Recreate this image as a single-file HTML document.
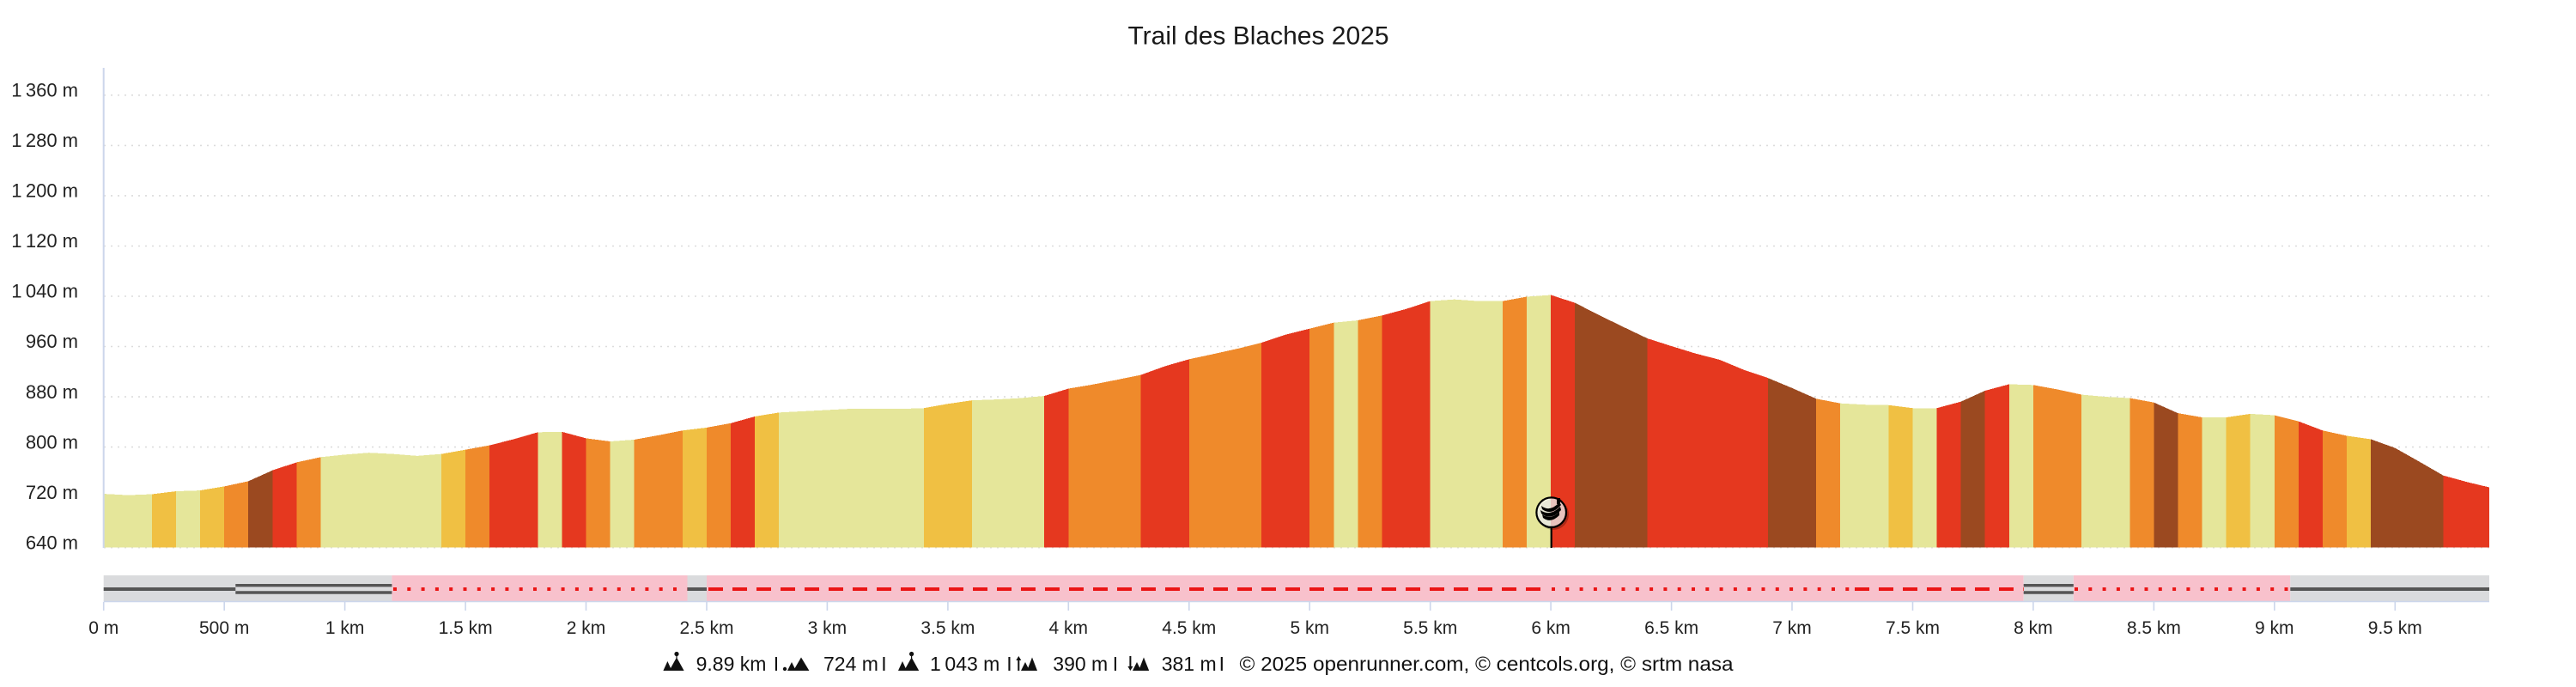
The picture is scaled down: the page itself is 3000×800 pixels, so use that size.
<!DOCTYPE html>
<html><head><meta charset="utf-8"><style>
html,body{margin:0;padding:0;background:#fff;}
svg{display:block;font-family:"Liberation Sans",Arial,sans-serif;}
</style></head><body>
<svg width="3000" height="800" viewBox="0 0 3000 800" xmlns="http://www.w3.org/2000/svg">
<rect width="3000" height="800" fill="#fff"/>
<text x="1465.5" y="51.7" text-anchor="middle" font-size="30" fill="#1a1a1a">Trail des Blaches 2025</text>
<g stroke="#dcdcdc" stroke-width="1.6" stroke-dasharray="2 6">
<line x1="121" y1="110.8" x2="2899" y2="110.8"/>
<line x1="121" y1="169.4" x2="2899" y2="169.4"/>
<line x1="121" y1="227.9" x2="2899" y2="227.9"/>
<line x1="121" y1="286.5" x2="2899" y2="286.5"/>
<line x1="121" y1="345.0" x2="2899" y2="345.0"/>
<line x1="121" y1="403.5" x2="2899" y2="403.5"/>
<line x1="121" y1="462.1" x2="2899" y2="462.1"/>
<line x1="121" y1="520.6" x2="2899" y2="520.6"/>
<line x1="121" y1="579.2" x2="2899" y2="579.2"/>
<line x1="121" y1="637.7" x2="2899" y2="637.7"/>
</g>
<g font-size="22" fill="#222" text-anchor="end">
<text x="91" y="112.5">1&#8201;360 m</text>
<text x="91" y="171.1">1&#8201;280 m</text>
<text x="91" y="229.6">1&#8201;200 m</text>
<text x="91" y="288.2">1&#8201;120 m</text>
<text x="91" y="346.7">1&#8201;040 m</text>
<text x="91" y="405.2">960 m</text>
<text x="91" y="463.8">880 m</text>
<text x="91" y="522.3">800 m</text>
<text x="91" y="580.9">720 m</text>
<text x="91" y="639.5">640 m</text>
</g>
<g transform="matrix(28.09 0 0 -0.73175 120.7 1106.02)" shape-rendering="crispEdges">
<g fill="#e5e69a">
<polygon points="0,640 0,725.6 1,723.5 2,725 2,640"/>
<polygon points="3,640 3,729.7 4,731 4,640"/>
<polygon points="9,640 9,784 10,788 11,791 12,789 13,786 14,789 14,640"/>
<polygon points="18,640 18,823.6 19,824.3 19,640"/>
<polygon points="21,640 21,809 22,811.8 22,640"/>
<polygon points="28,640 28,855 29,857 30,859 31,861 32,861 33,860.7 34,862 34,640"/>
<polygon points="36,640 36,874.4 37,875.8 38,877.9 39,881.4 39,640"/>
<polygon points="51,640 51,998 52,1001.7 52,640"/>
<polygon points="55,640 55,1032.3 56,1035 57,1032.3 58,1032.3 58,640"/>
<polygon points="59,640 59,1039.3 60,1042 60,640"/>
<polygon points="72,640 72,869.6 73,867.5 74,866.8 74,640"/>
<polygon points="75,640 75,862 76,862 76,640"/>
<polygon points="79,640 79,900 80,898.8 80,640"/>
<polygon points="82,640 82,883.5 83,880 84,878 84,640"/>
<polygon points="87,640 87,847.3 88,847.3 88,640"/>
<polygon points="89,640 89,852.9 90,850.7 90,640"/>
</g>
<g fill="#f0c043">
<polygon points="2,640 2,725 3,729.7 3,640"/>
<polygon points="4,640 4,731 5,737.4 5,640"/>
<polygon points="14,640 14,789 15,795.8 15,640"/>
<polygon points="24,640 24,826.4 25,831 25,640"/>
<polygon points="27,640 27,848.7 28,855 28,640"/>
<polygon points="34,640 34,862 35,868.8 36,874.4 36,640"/>
<polygon points="74,640 74,866.8 75,862 75,640"/>
<polygon points="88,640 88,847.3 89,852.9 89,640"/>
<polygon points="93,640 93,818 94,812.5 94,640"/>
</g>
<g fill="#ef8a2b">
<polygon points="5,640 5,737.4 6,745.7 6,640"/>
<polygon points="8,640 8,775.7 9,784 9,640"/>
<polygon points="15,640 15,795.8 16,802.8 16,640"/>
<polygon points="20,640 20,814 21,809 21,640"/>
<polygon points="22,640 22,811.8 23,818.8 24,826.4 24,640"/>
<polygon points="25,640 25,831 26,838 26,640"/>
<polygon points="40,640 40,893 41,899.5 42,907 43,914.8 43,640"/>
<polygon points="45,640 45,939.8 46,948 47,956.5 48,966 48,640"/>
<polygon points="50,640 50,988.5 51,998 51,640"/>
<polygon points="52,640 52,1001.7 53,1009.4 53,640"/>
<polygon points="58,640 58,1032.3 59,1039.3 59,640"/>
<polygon points="71,640 71,877 72,869.6 72,640"/>
<polygon points="80,640 80,898.8 81,891.8 82,883.5 82,640"/>
<polygon points="84,640 84,878 85,871 85,640"/>
<polygon points="86,640 86,854 87,847.3 87,640"/>
<polygon points="90,640 90,850.7 91,841 91,640"/>
<polygon points="92,640 92,826.4 93,818 93,640"/>
</g>
<g fill="#e5381f">
<polygon points="7,640 7,763 8,775.7 8,640"/>
<polygon points="16,640 16,802.8 17,812.5 18,823.6 18,640"/>
<polygon points="19,640 19,824.3 20,814 20,640"/>
<polygon points="26,640 26,838 27,848.7 27,640"/>
<polygon points="39,640 39,881.4 40,893 40,640"/>
<polygon points="43,640 43,914.8 44,928.7 45,939.8 45,640"/>
<polygon points="48,640 48,966 49,978.8 50,988.5 50,640"/>
<polygon points="53,640 53,1009.4 54,1019.8 55,1032.3 55,640"/>
<polygon points="60,640 60,1042 61,1029.6 61,640"/>
<polygon points="64,640 64,973 65,960.7 66,948.9 67,939 68,923 69,910 69,640"/>
<polygon points="76,640 76,862 77,872.3 77,640"/>
<polygon points="78,640 78,889.7 79,900 79,640"/>
<polygon points="91,640 91,841 92,826.4 92,640"/>
<polygon points="97,640 97,754.8 98,744.3 98.9,736 98.9,640"/>
</g>
<g fill="#9b4920">
<polygon points="6,640 6,745.7 7,763 7,640"/>
<polygon points="61,640 61,1029.6 62,1010 63,991.3 64,973 64,640"/>
<polygon points="69,640 69,910 70,894 71,877 71,640"/>
<polygon points="77,640 77,872.3 78,889.7 78,640"/>
<polygon points="85,640 85,871 86,854 86,640"/>
<polygon points="94,640 94,812.5 95,798.6 96,777 97,754.8 97,640"/>
</g>
</g>
<line x1="120.7" y1="79" x2="120.7" y2="638" stroke="#ccd6eb" stroke-width="2"/>
<!-- marker -->
<line x1="1806.7" y1="612" x2="1806.7" y2="638" stroke="#000" stroke-width="2.2"/>
<circle cx="1809" cy="599" r="18" fill="#000" opacity="0.25"/>
<circle cx="1806.7" cy="596.7" r="17.3" fill="#fff" fill-opacity="0.72" stroke="#000" stroke-width="2.2"/>
<g fill="#000">
<path d="M1795 589 Q1805 597 1816 585 L1818 588 Q1807 601 1796 593 Z"/>
<path d="M1794 594 Q1805 602 1817 590 L1818 594 Q1806 607 1795 598 Z"/>
<path d="M1796 599 Q1806 606 1816 596 L1816 600 Q1806 610 1797 603 Z"/>
<rect x="1813" y="580" width="4" height="7"/>
</g>
<!-- strip -->
<rect x="120.7" y="670" width="335.7" height="30" fill="#dadbdd"/>
<rect x="456.4" y="670" width="344.1" height="30" fill="#f8c1cc"/>
<rect x="800.5" y="670" width="22.5" height="30" fill="#dadbdd"/>
<rect x="823" y="670" width="1533.7" height="30" fill="#f8c1cc"/>
<rect x="2356.7" y="670" width="58.1" height="30" fill="#dadbdd"/>
<rect x="2414.8" y="670" width="252.5" height="30" fill="#f8c1cc"/>
<rect x="2667.3" y="670" width="231.7" height="30" fill="#dadbdd"/>
<g stroke="#555">
<line x1="120.7" y1="686" x2="274.3" y2="686" stroke-width="4"/>
<line x1="274.3" y1="681.7" x2="456.4" y2="681.7" stroke-width="3.4"/>
<line x1="274.3" y1="690" x2="456.4" y2="690" stroke-width="3.4"/>
<line x1="800.5" y1="686" x2="823" y2="686" stroke-width="4"/>
<line x1="2356.7" y1="681.7" x2="2414.8" y2="681.7" stroke-width="3.4"/>
<line x1="2356.7" y1="690" x2="2414.8" y2="690" stroke-width="3.4"/>
<line x1="2667.3" y1="686" x2="2899" y2="686" stroke-width="4"/>
</g>
<g stroke="#ea1515" stroke-width="4">
<line x1="458" y1="686" x2="800.5" y2="686" stroke-dasharray="4 12.3"/>
<line x1="825" y1="686" x2="1805" y2="686" stroke-dasharray="17 11"/>
<line x1="1807" y1="686" x2="2157" y2="686" stroke-dasharray="4 12.3"/>
<line x1="2160" y1="686" x2="2356.7" y2="686" stroke-dasharray="17 11"/>
<line x1="2416" y1="686" x2="2667.3" y2="686" stroke-dasharray="4 12.3"/>
</g>
<line x1="120.7" y1="700.5" x2="2899" y2="700.5" stroke="#ccd6eb" stroke-width="1.6"/>
<g stroke="#ccd6eb" stroke-width="1.6">
<line x1="120.7" y1="701" x2="120.7" y2="711"/><line x1="261.2" y1="701" x2="261.2" y2="711"/>
<line x1="401.6" y1="701" x2="401.6" y2="711"/><line x1="542.1" y1="701" x2="542.1" y2="711"/>
<line x1="682.5" y1="701" x2="682.5" y2="711"/><line x1="823.0" y1="701" x2="823.0" y2="711"/>
<line x1="963.4" y1="701" x2="963.4" y2="711"/><line x1="1103.9" y1="701" x2="1103.9" y2="711"/>
<line x1="1244.3" y1="701" x2="1244.3" y2="711"/><line x1="1384.8" y1="701" x2="1384.8" y2="711"/>
<line x1="1525.2" y1="701" x2="1525.2" y2="711"/><line x1="1665.7" y1="701" x2="1665.7" y2="711"/>
<line x1="1806.1" y1="701" x2="1806.1" y2="711"/><line x1="1946.6" y1="701" x2="1946.6" y2="711"/>
<line x1="2087.0" y1="701" x2="2087.0" y2="711"/><line x1="2227.5" y1="701" x2="2227.5" y2="711"/>
<line x1="2367.9" y1="701" x2="2367.9" y2="711"/><line x1="2508.4" y1="701" x2="2508.4" y2="711"/>
<line x1="2648.8" y1="701" x2="2648.8" y2="711"/><line x1="2789.3" y1="701" x2="2789.3" y2="711"/>
</g>
<g font-size="21" fill="#222" text-anchor="middle">
<text x="120.7" y="738">0 m</text><text x="261.2" y="738">500 m</text>
<text x="401.6" y="738">1 km</text><text x="542.1" y="738">1.5 km</text>
<text x="682.5" y="738">2 km</text><text x="823.0" y="738">2.5 km</text>
<text x="963.4" y="738">3 km</text><text x="1103.9" y="738">3.5 km</text>
<text x="1244.3" y="738">4 km</text><text x="1384.8" y="738">4.5 km</text>
<text x="1525.2" y="738">5 km</text><text x="1665.7" y="738">5.5 km</text>
<text x="1806.1" y="738">6 km</text><text x="1946.6" y="738">6.5 km</text>
<text x="2087.0" y="738">7 km</text><text x="2227.5" y="738">7.5 km</text>
<text x="2367.9" y="738">8 km</text><text x="2508.4" y="738">8.5 km</text>
<text x="2648.8" y="738">9 km</text><text x="2789.3" y="738">9.5 km</text>
</g>
<!-- footer icons -->
<g fill="#111">
<path d="M772.4 781 L777.4 770 L782.4 781 Z M779.4 781 L788 765.5 L796.6 781 Z"/>
<circle cx="788" cy="761.5" r="2.6"/><rect x="787.4" y="761.5" width="1.2" height="5"/>
<circle cx="914" cy="779" r="2.2"/>
<path d="M917 781 L922 771 L927 781 Z M924 781 L933 765.5 L942.4 781 Z"/>
<path d="M1046 781 L1051 770 L1056 781 Z M1053 781 L1061.6 765.5 L1070.2 781 Z"/>
<circle cx="1061.6" cy="761.5" r="2.6"/><rect x="1061" y="761.5" width="1.2" height="5"/>
<path d="M1185.3 781 L1185.3 769 L1183.3 769 L1186.3 764 L1189.3 769 L1187.3 769 L1187.3 781 Z"/>
<path d="M1189 781 L1194 771 L1199 781 Z M1196 781 L1202 765.5 L1208 781 Z"/>
<path d="M1315.4 764 L1315.4 776 L1313.4 776 L1316.4 781 L1319.4 776 L1317.4 776 L1317.4 764 Z"/>
<path d="M1319 781 L1324 771 L1329 781 Z M1326 781 L1332 765.5 L1338.2 781 Z"/>
</g>
<g font-size="23" fill="#111">
<text x="810.6" y="781">9.89 km</text>
<text x="904" y="781" text-anchor="middle">I</text>
<text x="959" y="781">724 m</text>
<text x="1029.4" y="781" text-anchor="middle">I</text>
<text x="1083" y="781">1&#8201;043 m</text>
<text x="1175.5" y="781" text-anchor="middle">I</text>
<text x="1226.3" y="781">390 m</text>
<text x="1298.9" y="781" text-anchor="middle">I</text>
<text x="1352.7" y="781">381 m</text>
<text x="1422.8" y="781" text-anchor="middle">I</text>
<text x="1443.5" y="781" textLength="575" lengthAdjust="spacingAndGlyphs">© 2025 openrunner.com, © centcols.org, © srtm nasa</text>
</g>
</svg>
</body></html>
